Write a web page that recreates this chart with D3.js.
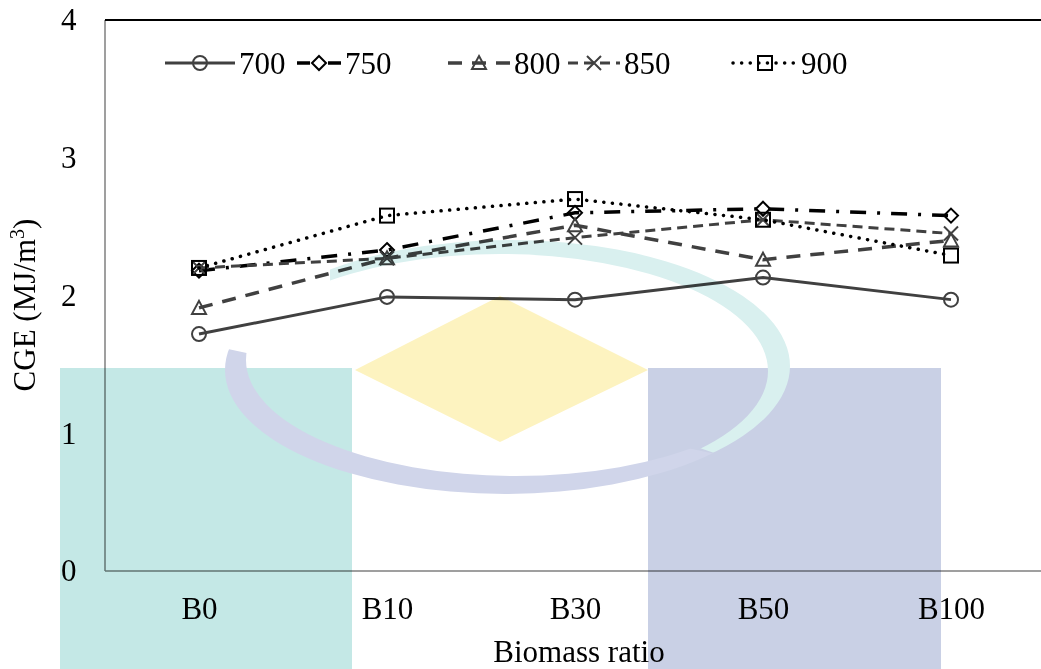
<!DOCTYPE html>
<html>
<head>
<meta charset="utf-8">
<script src="https://cdn.jsdelivr.net/npm/d3@7"></script>
<style>
  body { margin: 0; background: #fff; }
  text { font-family: "Liberation Serif", "Times New Roman", serif; fill: #000; }
</style>
</head>
<body>
<div id="chart"></div>
<script>
var svgWidth = 1041;
var svgHeight = 669;

var margin = { top: 20, right: -4, bottom: 98, left: 105 };
var width = svgWidth - margin.left - margin.right;
var height = svgHeight - margin.top - margin.bottom;

// data
var ratios = ["B0", "B10", "B30", "B50", "B100"];
var temps = ["700", "750", "800", "850", "900"];
var cge700 = [1.72, 1.99, 1.97, 2.13, 1.97];
var cge750 = [2.18, 2.33, 2.60, 2.63, 2.58];
var cge800 = [1.91, 2.27, 2.51, 2.26, 2.40];
var cge850 = [2.20, 2.27, 2.42, 2.55, 2.45];
var cge900 = [2.20, 2.58, 2.70, 2.55, 2.29];
var yTicks = [0, 1, 2, 3, 4];

var seriesValues = [cge700, cge750, cge800, cge850, cge900];

var fontSize = "31px";

// look of each series (legendDash used for the short legend sample)
var styles = [
  { color: "#404040", dash: null, legendDash: null, w: 3, marker: "circle", cap: "butt" },
  { color: "#000000", dash: "16,11,3,11", legendDash: "13,18,13", w: 3.5, marker: "diamond", cap: "butt" },
  { color: "#404040", dash: "14,10", legendDash: "14,10", w: 3.5, marker: "triangle", cap: "butt" },
  { color: "#404040", dash: "10,6", legendDash: "10,6", w: 3, marker: "cross", cap: "butt" },
  { color: "#000000", dash: "0.1,8.5", legendDash: "0.1,8.5", w: 3.5, marker: "square", cap: "round" }
];

var svg = d3.select("#chart")
  .append("svg")
  .attr("width", svgWidth)
  .attr("height", svgHeight);

var chartGroup = svg.append("g")
  .attr("transform", `translate(${margin.left}, ${margin.top})`);

var xScale = d3.scalePoint()
  .domain(ratios)
  .range([0, width])
  .padding(0.5);

var yScale = d3.scaleLinear()
  .domain([0, 4])
  .range([height, 0]);

// frame: gray left + bottom axis, black top border
chartGroup.append("line")
  .attr("x1", 0).attr("x2", 0).attr("y1", 0).attr("y2", height)
  .attr("stroke", "#7f7f7f").attr("stroke-width", 1.5);
chartGroup.append("line")
  .attr("x1", 0).attr("x2", width).attr("y1", height).attr("y2", height)
  .attr("stroke", "#7f7f7f").attr("stroke-width", 1.5);
chartGroup.append("line")
  .attr("x1", 0).attr("x2", width).attr("y1", 0).attr("y2", 0)
  .attr("stroke", "#000").attr("stroke-width", 2);

// y axis labels
var leftAxis = d3.axisLeft(yScale).tickValues(yTicks).tickFormat(d3.format("d")).tickSize(0);
var yAxis = chartGroup.append("g").call(leftAxis);
yAxis.select(".domain").remove();
yAxis.selectAll("text")
  .style("font-size", fontSize)
  .style("font-family", "Liberation Serif")
  .attr("text-anchor", "start")
  .attr("x", -44);

// x axis labels
var bottomAxis = d3.axisBottom(xScale).tickSize(0).tickPadding(26);
var xAxis = chartGroup.append("g")
  .attr("transform", `translate(0, ${height})`)
  .call(bottomAxis);
xAxis.select(".domain").remove();
xAxis.selectAll("text")
  .style("font-size", fontSize)
  .style("font-family", "Liberation Serif");

// axis titles
svg.append("text")
  .attr("x", 579)
  .attr("y", 662)
  .attr("text-anchor", "middle")
  .style("font-size", fontSize)
  .text("Biomass ratio");

var yTitle = svg.append("text")
  .attr("transform", "translate(35, 305) rotate(-90)")
  .attr("text-anchor", "middle")
  .style("font-size", fontSize);
yTitle.append("tspan").text("CGE (MJ/m");
yTitle.append("tspan").attr("dy", -11).style("font-size", "20px").text("3");
yTitle.append("tspan").attr("dy", 11).text(")");

// marker drawing
function drawMarker(g, type, x, y, color) {
  var s = 7;
  if (type === "circle") {
    g.append("circle").attr("cx", x).attr("cy", y).attr("r", s)
      .attr("fill", "none").attr("stroke", color).attr("stroke-width", 2);
  } else if (type === "diamond") {
    g.append("path")
      .attr("d", `M${x},${y - s}L${x + s},${y}L${x},${y + s}L${x - s},${y}Z`)
      .attr("fill", "none").attr("stroke", color).attr("stroke-width", 2);
  } else if (type === "triangle") {
    g.append("path")
      .attr("d", `M${x},${y - s}L${x + s},${y + s - 1}L${x - s},${y + s - 1}Z`)
      .attr("fill", "none").attr("stroke", color).attr("stroke-width", 2);
  } else if (type === "cross") {
    g.append("path")
      .attr("d", `M${x - s},${y - s}L${x + s},${y + s}M${x - s},${y + s}L${x + s},${y - s}`)
      .attr("fill", "none").attr("stroke", color).attr("stroke-width", 2);
  } else if (type === "square") {
    g.append("rect").attr("x", x - s).attr("y", y - s).attr("width", 2 * s).attr("height", 2 * s)
      .attr("fill", "none").attr("stroke", color).attr("stroke-width", 2);
  }
}

var lineGen = d3.line()
  .x((d, i) => xScale(ratios[i]))
  .y(d => yScale(d));

seriesValues.forEach(function (vals, k) {
  var st = styles[k];
  chartGroup.append("path")
    .datum(vals)
    .attr("d", lineGen)
    .attr("fill", "none")
    .attr("stroke", st.color)
    .attr("stroke-width", st.w)
    .attr("stroke-linecap", st.cap)
    .attr("stroke-dasharray", st.dash);
  var mg = chartGroup.append("g");
  vals.forEach(function (v, i) {
    drawMarker(mg, st.marker, xScale(ratios[i]), yScale(v), st.color);
  });
});

// legend: sample start and length per entry
var legendX = [165, 297, 448, 568, 733];
var legendW = [70, 44, 62, 52, 64];
var legendY = 63;
var legend = svg.append("g");
temps.forEach(function (t, k) {
  var st = styles[k];
  var x0 = legendX[k];
  legend.append("line")
    .attr("x1", x0).attr("x2", x0 + legendW[k])
    .attr("y1", legendY).attr("y2", legendY)
    .attr("stroke", st.color)
    .attr("stroke-width", st.w)
    .attr("stroke-linecap", st.cap)
    .attr("stroke-dasharray", st.legendDash);
  drawMarker(legend, st.marker, x0 + legendW[k] / 2, legendY, st.color);
  legend.append("text")
    .attr("x", x0 + legendW[k] + 4)
    .attr("y", legendY + 11)
    .style("font-size", fontSize)
    .text(t);
});

// faint watermark laid over the chart
var wm = svg.append("g").style("mix-blend-mode", "multiply");
var defs = svg.append("defs");
defs.append("clipPath").attr("id", "lowClip")
  .append("path").attr("d", "M0,300L720,455L1041,520L1041,669L0,669Z");
defs.append("clipPath").attr("id", "highClip")
  .append("path").attr("d", "M330,0L1041,0L1041,520L720,455L330,320Z");

function ellipsePath(cx, cy, rx, ry) {
  return `M${cx - rx},${cy}a${rx},${ry} 0 1,0 ${2 * rx},0a${rx},${ry} 0 1,0 ${-2 * rx},0Z`;
}

wm.append("rect").attr("x", 60).attr("y", 368).attr("width", 292).attr("height", 301).attr("fill", "#c4e8e6");
wm.append("rect").attr("x", 648).attr("y", 368).attr("width", 293).attr("height", 301).attr("fill", "#c9d0e5");
wm.append("path").attr("d", "M500,296L648,370L500,442L355,370Z").attr("fill", "#fdf3c0");
wm.append("path")
  .attr("d", ellipsePath(505, 370, 280, 124) + ellipsePath(516, 360, 270, 116))
  .attr("fill-rule", "evenodd")
  .attr("clip-path", "url(#lowClip)")
  .attr("fill", "#d0d5ea");
wm.append("path")
  .attr("d", ellipsePath(510, 366, 280, 126) + ellipsePath(500, 371, 268, 117))
  .attr("fill-rule", "evenodd")
  .attr("clip-path", "url(#highClip)")
  .attr("fill", "#d9f0ef");
</script>
</body>
</html>
